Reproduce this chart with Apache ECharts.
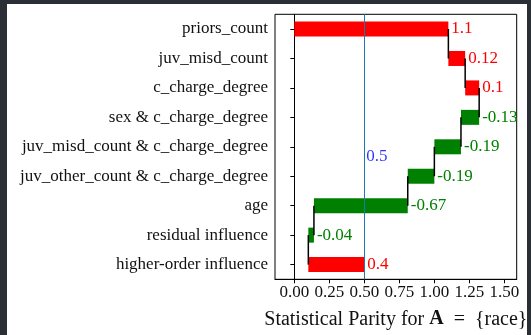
<!DOCTYPE html>
<html>
<head>
<meta charset="utf-8">
<script src="https://cdn.jsdelivr.net/npm/echarts@6/dist/echarts.min.js"></script>
<style>
  html, body { margin: 0; padding: 0; background: #2a2e35; width: 531px; height: 335px; overflow: hidden; }
  #chart { position: absolute; left: 7px; top: 4px; width: 520px; height: 331px; background: #ffffff; }
</style>
</head>
<body>
<div id="chart"></div>
<script>
// Feature contributions to statistical parity (waterfall, top to bottom)
const categories = [
  'priors_count',
  'juv_misd_count',
  'c_charge_degree',
  'sex & c_charge_degree',
  'juv_misd_count & c_charge_degree',
  'juv_other_count & c_charge_degree',
  'age',
  'residual influence',
  'higher-order influence'
];
const contributions = [1.1, 0.12, 0.1, -0.13, -0.19, -0.19, -0.67, -0.04, 0.4];
const parityValue = 0.5;
const xTicks = [0, 0.25, 0.5, 0.75, 1.0, 1.25, 1.5];

const POS = '#ff0000';
const NEG = '#008000';
const FONT = '"Liberation Serif", "Times New Roman", serif';

// running totals: each bar spans from the previous total to the new one
const starts = [];
const ends = [];
let running = 0;
contributions.forEach(v => {
  starts.push(running);
  running += v;
  ends.push(running);
});

const baseData = contributions.map((v, i) => Math.min(starts[i], ends[i]));
const deltaData = contributions.map((v, i) => ({
  value: Math.abs(v),
  itemStyle: { color: v >= 0 ? POS : NEG },
  label: { color: v >= 0 ? POS : NEG }
}));
const connectorData = [];
for (let i = 0; i < contributions.length - 1; i++) {
  connectorData.push([ends[i], i, i + 1]);
}

const chart = echarts.init(document.getElementById('chart'), null, { renderer: 'canvas' });

chart.setOption({
  animation: false,
  backgroundColor: '#ffffff',
  grid: {
    left: 268, right: 10.3, top: 10.3, bottom: 55.7,
    outerBoundsMode: 'none',
    show: true, borderColor: '#000', borderWidth: 1, backgroundColor: 'transparent'
  },
  xAxis: {
    type: 'value',
    min: -0.138,
    max: 1.588,
    // closing brace sits outside the rich tags so the tag parser keeps it
    name: '{n|Statistical Parity for }{b|A}{n|  =  {race}}',
    nameLocation: 'middle',
    nameGap: 30,
    nameTextStyle: {
      fontFamily: FONT, fontSize: 20, color: '#111',
      rich: {
        n: { fontFamily: FONT, fontSize: 20, color: '#111' },
        b: { fontFamily: FONT, fontSize: 20, color: '#111', fontWeight: 'bold' }
      }
    },
    splitLine: { show: false },
    axisLine: { show: true, onZero: false, lineStyle: { color: '#000', width: 1 } },
    axisTick: { show: true, length: 4, lineStyle: { color: '#000' }, customValues: xTicks },
    axisLabel: {
      customValues: xTicks,
      margin: 5,
      fontFamily: FONT,
      fontSize: 17,
      color: '#111',
      formatter: v => v.toFixed(2)
    }
  },
  yAxis: {
    type: 'category',
    data: categories,
    inverse: true,
    axisLine: { show: true, lineStyle: { color: '#000', width: 1 } },
    axisTick: { show: true, length: 4, alignWithLabel: true, lineStyle: { color: '#000' } },
    axisLabel: { margin: 7, fontFamily: FONT, fontSize: 17, color: '#111' },
    splitLine: { show: false }
  },
  series: [
    {
      name: 'base',
      type: 'bar',
      stack: 'waterfall',
      barWidth: 15,
      itemStyle: { color: 'transparent' },
      emphasis: { disabled: true },
      data: baseData,
      markLine: {
        silent: true,
        symbol: ['none', 'none'],
        label: { show: false },
        lineStyle: { color: '#1f77b4', width: 1, type: 'solid' },
        data: [{ xAxis: parityValue }]
      }
    },
    {
      name: 'contribution',
      type: 'bar',
      stack: 'waterfall',
      barWidth: 15,
      data: deltaData,
      label: {
        show: true,
        position: 'right',
        distance: 3,
        fontFamily: FONT,
        fontSize: 17,
        formatter: p => String(contributions[p.dataIndex])
      }
    },
    {
      name: 'connectors',
      type: 'custom',
      z: 5,
      encode: { x: 0, y: [1, 2] },
      data: connectorData,
      renderItem: (params, api) => {
        const a = api.coord([api.value(0), api.value(1)]);
        const b = api.coord([api.value(0), api.value(2)]);
        return {
          type: 'line',
          shape: { x1: a[0], y1: a[1], x2: b[0], y2: b[1] },
          style: { stroke: '#000', lineWidth: 1.5 }
        };
      }
    },
    {
      name: 'parity',
      type: 'scatter',
      symbolSize: 0,
      data: [[parityValue, 4]],
      label: {
        show: true,
        position: 'right',
        distance: 2,
        offset: [0, 10],
        fontFamily: FONT,
        fontSize: 17,
        color: '#0000ff',
        formatter: () => String(parityValue)
      }
    }
  ]
});
</script>
</body>
</html>
